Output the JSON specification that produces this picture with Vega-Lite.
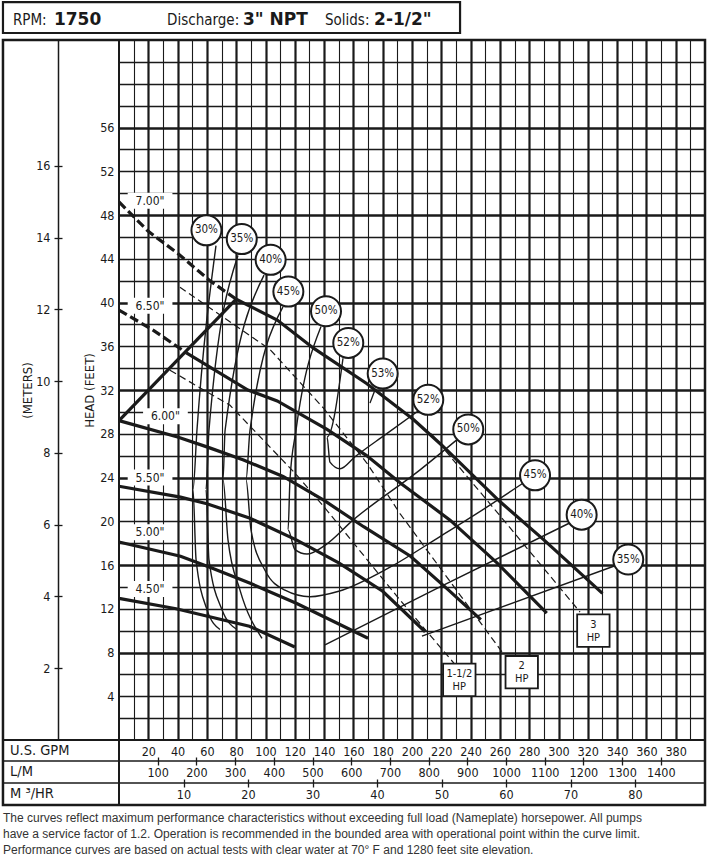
{
  "$schema": "https://vega.github.io/schema/vega-lite/v6.json",
  "width": 586,
  "height": 700,
  "autosize": {"type": "none"},
  "padding": {"left": 119, "top": 40, "right": 3, "bottom": 122},
  "background": "white",
  "config": {
    "view": {"stroke": "#1a1a1a", "strokeWidth": 2},
    "font": "DejaVu Sans Condensed, Liberation Sans Narrow, sans-serif",
    "axis": {
      "labelFont": "DejaVu Sans Condensed, Liberation Sans Narrow, sans-serif",
      "titleFont": "DejaVu Sans Condensed, Liberation Sans Narrow, sans-serif",
      "labelColor": "#1a1a1a", "titleColor": "#1a1a1a",
      "domainColor": "#1a1a1a", "tickColor": "#1a1a1a", "gridColor": "#1a1a1a",
      "gridOpacity": 1, "labelFontSize": 12.5, "labelOverlap": false, "labelFlush": false,
      "titleFontWeight": "normal", "titleFontSize": 13
    }
  },
  "data": {"values": [{}]},
  "datasets": {
    "curves": [
      {"curve":"7.00a","kind":"impd","seq":1,"gpm":0,"head":49.2},
      {"curve":"7.00a","kind":"impd","seq":2,"gpm":20,"head":46.5},
      {"curve":"7.00a","kind":"impd","seq":3,"gpm":40,"head":44.5},
      {"curve":"7.00a","kind":"impd","seq":4,"gpm":62,"head":42.0},
      {"curve":"7.00a","kind":"impd","seq":5,"gpm":80,"head":40.3},
      {"curve":"6.50a","kind":"impd","seq":1,"gpm":0,"head":39.3},
      {"curve":"6.50a","kind":"impd","seq":2,"gpm":23,"head":37.5},
      {"curve":"6.50a","kind":"impd","seq":3,"gpm":46,"head":35.4},
      {"curve":"7.00b","kind":"imp","seq":1,"gpm":80,"head":40.3},
      {"curve":"7.00b","kind":"imp","seq":2,"gpm":108,"head":38.4},
      {"curve":"7.00b","kind":"imp","seq":3,"gpm":133,"head":35.8},
      {"curve":"7.00b","kind":"imp","seq":4,"gpm":169,"head":32.6},
      {"curve":"7.00b","kind":"imp","seq":5,"gpm":201,"head":29.3},
      {"curve":"7.00b","kind":"imp","seq":6,"gpm":220,"head":27.0},
      {"curve":"7.00b","kind":"imp","seq":7,"gpm":260,"head":21.8},
      {"curve":"7.00b","kind":"imp","seq":8,"gpm":290,"head":18.3},
      {"curve":"7.00b","kind":"imp","seq":9,"gpm":330,"head":13.4},
      {"curve":"6.50b","kind":"imp","seq":1,"gpm":46,"head":35.4},
      {"curve":"6.50b","kind":"imp","seq":2,"gpm":88,"head":32.0},
      {"curve":"6.50b","kind":"imp","seq":3,"gpm":108,"head":31.0},
      {"curve":"6.50b","kind":"imp","seq":4,"gpm":142,"head":28.4},
      {"curve":"6.50b","kind":"imp","seq":5,"gpm":169,"head":26.0},
      {"curve":"6.50b","kind":"imp","seq":6,"gpm":192,"head":23.5},
      {"curve":"6.50b","kind":"imp","seq":7,"gpm":226,"head":20.1},
      {"curve":"6.50b","kind":"imp","seq":8,"gpm":258,"head":16.2},
      {"curve":"6.50b","kind":"imp","seq":9,"gpm":292,"head":11.6},
      {"curve":"6.00","kind":"imp","seq":1,"gpm":0,"head":29.2},
      {"curve":"6.00","kind":"imp","seq":2,"gpm":40,"head":27.7},
      {"curve":"6.00","kind":"imp","seq":3,"gpm":60,"head":26.8},
      {"curve":"6.00","kind":"imp","seq":4,"gpm":85,"head":25.6},
      {"curve":"6.00","kind":"imp","seq":5,"gpm":112,"head":24.1},
      {"curve":"6.00","kind":"imp","seq":6,"gpm":140,"head":21.9},
      {"curve":"6.00","kind":"imp","seq":7,"gpm":167,"head":19.5},
      {"curve":"6.00","kind":"imp","seq":8,"gpm":199,"head":16.8},
      {"curve":"6.00","kind":"imp","seq":9,"gpm":225,"head":13.7},
      {"curve":"6.00","kind":"imp","seq":10,"gpm":247,"head":11.0},
      {"curve":"5.50","kind":"imp","seq":1,"gpm":0,"head":23.2},
      {"curve":"5.50","kind":"imp","seq":2,"gpm":42,"head":22.2},
      {"curve":"5.50","kind":"imp","seq":3,"gpm":60,"head":21.6},
      {"curve":"5.50","kind":"imp","seq":4,"gpm":89,"head":20.3},
      {"curve":"5.50","kind":"imp","seq":5,"gpm":121,"head":18.3},
      {"curve":"5.50","kind":"imp","seq":6,"gpm":150,"head":16.2},
      {"curve":"5.50","kind":"imp","seq":7,"gpm":180,"head":13.6},
      {"curve":"5.50","kind":"imp","seq":8,"gpm":209,"head":9.9},
      {"curve":"5.00","kind":"imp","seq":1,"gpm":0,"head":18.1},
      {"curve":"5.00","kind":"imp","seq":2,"gpm":42,"head":16.8},
      {"curve":"5.00","kind":"imp","seq":3,"gpm":62,"head":15.8},
      {"curve":"5.00","kind":"imp","seq":4,"gpm":90,"head":14.3},
      {"curve":"5.00","kind":"imp","seq":5,"gpm":121,"head":12.5},
      {"curve":"5.00","kind":"imp","seq":6,"gpm":170,"head":9.3},
      {"curve":"4.50","kind":"imp","seq":1,"gpm":0,"head":12.95},
      {"curve":"4.50","kind":"imp","seq":2,"gpm":39,"head":12.0},
      {"curve":"4.50","kind":"imp","seq":3,"gpm":89,"head":10.4},
      {"curve":"4.50","kind":"imp","seq":4,"gpm":120,"head":8.5},
      {"curve":"max","kind":"imp","seq":1,"gpm":0,"head":29.2},
      {"curve":"max","kind":"imp","seq":2,"gpm":80,"head":40.3},
      {"curve":"e30","kind":"eff","seq":1,"gpm":66.2,"head":45.2},
      {"curve":"e30","kind":"eff","seq":2,"gpm":53.2,"head":28.3},
      {"curve":"e30","kind":"eff","seq":3,"gpm":50.5,"head":22.9},
      {"curve":"e30","kind":"eff","seq":4,"gpm":52.6,"head":16.5},
      {"curve":"e30","kind":"eff","seq":5,"gpm":60.1,"head":11.9},
      {"curve":"e30","kind":"eff","seq":6,"gpm":68.9,"head":10.1},
      {"curve":"e35","kind":"eff","seq":1,"gpm":81.2,"head":44.3},
      {"curve":"e35","kind":"eff","seq":2,"gpm":61.4,"head":28.3},
      {"curve":"e35","kind":"eff","seq":3,"gpm":59.4,"head":22.9},
      {"curve":"e35","kind":"eff","seq":4,"gpm":61.4,"head":16.5},
      {"curve":"e35","kind":"eff","seq":5,"gpm":70.3,"head":11.9},
      {"curve":"e35","kind":"eff","seq":6,"gpm":80.5,"head":10.1},
      {"curve":"e40","kind":"eff","seq":1,"gpm":99.0,"head":42.5},
      {"curve":"e40","kind":"eff","seq":2,"gpm":72.4,"head":28.3},
      {"curve":"e40","kind":"eff","seq":3,"gpm":71.0,"head":23.8},
      {"curve":"e40","kind":"eff","seq":4,"gpm":74.4,"head":18.3},
      {"curve":"e40","kind":"eff","seq":5,"gpm":82.6,"head":13.7},
      {"curve":"e40","kind":"eff","seq":6,"gpm":97.6,"head":9.3},
      {"curve":"e45","kind":"eff","seq":1,"gpm":111.9,"head":39.6},
      {"curve":"e45","kind":"eff","seq":2,"gpm":89.4,"head":28.3},
      {"curve":"e45","kind":"eff","seq":3,"gpm":86.7,"head":23.8},
      {"curve":"e45","kind":"eff","seq":4,"gpm":90.1,"head":19.2},
      {"curve":"e45","kind":"eff","seq":5,"gpm":99.7,"head":15.5},
      {"curve":"e45","kind":"eff","seq":6,"gpm":113.3,"head":13.7},
      {"curve":"e45","kind":"eff","seq":7,"gpm":130.4,"head":13.1},
      {"curve":"e45","kind":"eff","seq":8,"gpm":150,"head":13.6},
      {"curve":"e45","kind":"eff","seq":9,"gpm":185,"head":15.8},
      {"curve":"e45","kind":"eff","seq":10,"gpm":219.1,"head":18.6},
      {"curve":"e45","kind":"eff","seq":11,"gpm":250,"head":21.2},
      {"curve":"e45","kind":"eff","seq":12,"gpm":276,"head":23.5},
      {"curve":"e50","kind":"eff","seq":1,"gpm":137.9,"head":37.8},
      {"curve":"e50","kind":"eff","seq":2,"gpm":120.8,"head":28.3},
      {"curve":"e50","kind":"eff","seq":3,"gpm":116.7,"head":23.8},
      {"curve":"e50","kind":"eff","seq":4,"gpm":115.4,"head":19.2},
      {"curve":"e50","kind":"eff","seq":5,"gpm":120.1,"head":17.4},
      {"curve":"e50","kind":"eff","seq":6,"gpm":128.3,"head":17.0},
      {"curve":"e50","kind":"eff","seq":7,"gpm":140.6,"head":17.8},
      {"curve":"e50","kind":"eff","seq":8,"gpm":159.7,"head":20.1},
      {"curve":"e50","kind":"eff","seq":9,"gpm":205.5,"head":24.7},
      {"curve":"e50","kind":"eff","seq":10,"gpm":232,"head":27.6},
      {"curve":"e52","kind":"eff","seq":1,"gpm":152.9,"head":34.9},
      {"curve":"e52","kind":"eff","seq":2,"gpm":142.0,"head":27.7},
      {"curve":"e52","kind":"eff","seq":3,"gpm":144.0,"head":25.4},
      {"curve":"e52","kind":"eff","seq":4,"gpm":150.9,"head":24.8},
      {"curve":"e52","kind":"eff","seq":5,"gpm":161.1,"head":25.9},
      {"curve":"e52","kind":"eff","seq":6,"gpm":181.6,"head":27.9},
      {"curve":"e52","kind":"eff","seq":7,"gpm":207.5,"head":30.4},
      {"curve":"e53","kind":"eff","seq":1,"gpm":174.7,"head":32.0},
      {"curve":"e53","kind":"eff","seq":2,"gpm":171.3,"head":30.8},
      {"curve":"e40r","kind":"eff","seq":1,"gpm":140.6,"head":8.7},
      {"curve":"e40r","kind":"eff","seq":2,"gpm":219.1,"head":14.0},
      {"curve":"e40r","kind":"eff","seq":3,"gpm":310,"head":20.0},
      {"curve":"e35r","kind":"eff","seq":1,"gpm":206.8,"head":9.5},
      {"curve":"e35r","kind":"eff","seq":2,"gpm":340,"head":16.0},
      {"curve":"hp3","kind":"hp","seq":1,"gpm":213.1,"head":28.0},
      {"curve":"hp3","kind":"hp","seq":2,"gpm":260.1,"head":20.5},
      {"curve":"hp3","kind":"hp","seq":3,"gpm":314.7,"head":11.7},
      {"curve":"hp2","kind":"hp","seq":1,"gpm":41.6,"head":41.4},
      {"curve":"hp2","kind":"hp","seq":2,"gpm":103.1,"head":35.7},
      {"curve":"hp2","kind":"hp","seq":3,"gpm":139.2,"head":30.4},
      {"curve":"hp2","kind":"hp","seq":4,"gpm":169.3,"head":25.3},
      {"curve":"hp2","kind":"hp","seq":5,"gpm":191.8,"head":20.7},
      {"curve":"hp2","kind":"hp","seq":6,"gpm":262.3,"head":7.9},
      {"curve":"hp15","kind":"hp","seq":1,"gpm":34.8,"head":33.8},
      {"curve":"hp15","kind":"hp","seq":2,"gpm":75.8,"head":30.6},
      {"curve":"hp15","kind":"hp","seq":3,"gpm":121.5,"head":24.2},
      {"curve":"hp15","kind":"hp","seq":4,"gpm":141.9,"head":21.0},
      {"curve":"hp15","kind":"hp","seq":5,"gpm":191.8,"head":12.8},
      {"curve":"hp15","kind":"hp","seq":6,"gpm":229.4,"head":6.9}
    ],
    "effLabels": [
      {"label":"30%","gpm":59.7,"head":46.6},
      {"label":"35%","gpm":83.8,"head":45.8},
      {"label":"40%","gpm":103.5,"head":43.9},
      {"label":"45%","gpm":115.6,"head":41.0},
      {"label":"50%","gpm":141.3,"head":39.2},
      {"label":"52%","gpm":156.5,"head":36.3},
      {"label":"53%","gpm":180,"head":33.5},
      {"label":"52%","gpm":211.1,"head":31.1},
      {"label":"50%","gpm":238.4,"head":28.4},
      {"label":"45%","gpm":284,"head":24.2},
      {"label":"40%","gpm":315.8,"head":20.6},
      {"label":"35%","gpm":347.6,"head":16.5}
    ],
    "impLabels": [
      {"label":"7.00\"","gpm":21.2,"head":49.3},
      {"label":"6.50\"","gpm":21.2,"head":39.7},
      {"label":"6.00\"","gpm":31.7,"head":29.6},
      {"label":"5.50\"","gpm":21.2,"head":24.0},
      {"label":"5.00\"","gpm":21.2,"head":19.0},
      {"label":"4.50\"","gpm":21.2,"head":13.8}
    ],
    "hpLabels": [
      {"label":"1-1/2\nHP","gpm":232.3,"head":5.5},
      {"label":"2\nHP","gpm":274.9,"head":6.2},
      {"label":"3\nHP","gpm":323.8,"head":10.0}
    ]
  },
  "resolve": {"axis": {"x": "independent", "y": "independent"}},
  "layer": [
    {
      "mark": {"type": "point", "opacity": 0},
      "encoding": {
        "x": {"datum": 0, "type": "quantitative", "scale": {"domain": [0, 400], "nice": false, "zero": false},
          "axis": {"orient": "bottom", "values": [10,30,50,70,90,110,130,150,170,190,210,230,250,270,290,310,330,350,370,390], "grid": true, "gridWidth": 1.1, "labels": false, "ticks": false, "domain": false, "title": null, "zindex": 0}},
        "y": {"datum": 0, "type": "quantitative", "scale": {"domain": [0, 64], "nice": false, "zero": false},
          "axis": {"orient": "left", "values": [2,4,6,10,12,14,18,20,22,26,28,30,34,36,38,42,44,46,50,52,54,58,60,62], "grid": true, "gridWidth": 1.4, "labels": false, "ticks": false, "domain": false, "title": null, "zindex": 0}}
      }
    },
    {
      "mark": {"type": "point", "opacity": 0},
      "encoding": {
        "x": {"datum": 0, "type": "quantitative", "scale": {"domain": [0, 400], "nice": false, "zero": false},
          "axis": {"orient": "bottom", "values": [20,40,60,80,100,120,140,160,180,200,220,240,260,280,300,320,340,360,380], "grid": true, "gridWidth": 2.2, "labels": false, "ticks": false, "domain": false, "title": null, "zindex": 0}},
        "y": {"datum": 0, "type": "quantitative", "scale": {"domain": [0, 64], "nice": false, "zero": false},
          "axis": {"orient": "left", "values": [8,16,24,32,40,48,56], "grid": true, "gridWidth": 2.4, "labels": false, "ticks": false, "domain": false, "title": null, "zindex": 0}}
      }
    },
    {
      "mark": {"type": "point", "opacity": 0},
      "encoding": {
        "x": {"datum": 0, "type": "quantitative", "scale": {"domain": [0, 400], "nice": false, "zero": false},
          "axis": {"orient": "bottom", "values": [20,40,60,80,100,120,140,160,180,200,220,240,260,280,300,320,340,360,380], "grid": false, "ticks": false, "tickSize": 0, "domain": false, "labelPadding": 5, "title": null}},
        "y": {"datum": 0, "type": "quantitative", "scale": {"domain": [0, 64], "nice": false, "zero": false},
          "axis": {"orient": "left", "values": [4,8,12,16,20,24,28,32,36,40,44,48,52,56], "grid": false, "ticks": false, "tickSize": 0, "domain": false, "labelPadding": 5, "title": "HEAD (FEET)", "titlePadding": 3}}
      }
    },
    {
      "mark": {"type": "point", "opacity": 0},
      "encoding": {
        "x": {"datum": 0, "type": "quantitative", "scale": {"domain": [0, 400], "nice": false, "zero": false},
          "axis": {"orient": "bottom", "offset": 17, "values": [26.417,52.834,79.252,105.669,132.086,158.503,184.92,211.338,237.755,264.172,290.589,317.006,343.423,369.841], "grid": false, "labels": false, "ticks": true, "tickSize": 8, "tickWidth": 1.3, "domain": false, "title": null}},
        "y": {"datum": 0, "type": "quantitative", "scale": {"domain": [0, 64], "nice": false, "zero": false},
          "axis": {"orient": "left", "offset": 61, "values": [6.56168,13.12336,19.68504,26.24672,32.8084,39.37008,45.93176,52.49344], "labelExpr": "format(datum.value/3.28084,'.0f')", "grid": false, "ticks": true, "tickSize": 4, "tickWidth": 1.3, "domain": true, "domainWidth": 1.5, "labelPadding": 4, "title": "(METERS)", "titlePadding": 1}}
      }
    },
    {
      "mark": {"type": "point", "opacity": 0},
      "encoding": {
        "x": {"datum": 0, "type": "quantitative", "scale": {"domain": [0, 400], "nice": false, "zero": false},
          "axis": {"orient": "bottom", "offset": 21, "values": [26.417,52.834,79.252,105.669,132.086,158.503,184.92,211.338,237.755,264.172,290.589,317.006,343.423,369.841], "labelExpr": "format(datum.value*3.78541,'.0f')", "grid": false, "ticks": false, "tickSize": 0, "domain": false, "labelPadding": 5, "title": null}},
        "y": {"datum": 0, "type": "quantitative", "scale": {"domain": [0, 64], "nice": false, "zero": false},
          "axis": {"orient": "left", "offset": 57, "values": [6.56168,13.12336,19.68504,26.24672,32.8084,39.37008,45.93176,52.49344], "grid": false, "labels": false, "ticks": true, "tickSize": 4, "tickWidth": 1.3, "domain": false, "title": null}}
      }
    },
    {
      "mark": {"type": "point", "opacity": 0},
      "encoding": {
        "x": {"datum": 0, "type": "quantitative", "scale": {"domain": [0, 400], "nice": false, "zero": false},
          "axis": {"orient": "bottom", "offset": 39, "values": [44.029,88.057,132.086,176.115,220.144,264.172,308.201,352.23], "grid": false, "labels": false, "ticks": true, "tickSize": 8, "tickWidth": 1.3, "domain": false, "title": null}},
        "y": {"datum": 0, "type": "quantitative", "scale": {"domain": [0, 64], "nice": false, "zero": false}, "axis": null}
      }
    },
    {
      "mark": {"type": "point", "opacity": 0},
      "encoding": {
        "x": {"datum": 0, "type": "quantitative", "scale": {"domain": [0, 400], "nice": false, "zero": false},
          "axis": {"orient": "bottom", "offset": 43, "values": [44.029,88.057,132.086,176.115,220.144,264.172,308.201,352.23], "labelExpr": "format(datum.value/4.40287,'.0f')", "grid": false, "ticks": false, "tickSize": 0, "domain": false, "labelPadding": 5, "title": null}},
        "y": {"datum": 0, "type": "quantitative", "scale": {"domain": [0, 64], "nice": false, "zero": false}, "axis": null}
      }
    },
    {
      "mark": {"type": "rect", "fillOpacity": 0, "stroke": "#1a1a1a", "strokeWidth": 2.5},
      "encoding": {
        "x": {"datum": -79.2, "type": "quantitative", "scale": {"domain": [0, 400], "nice": false, "zero": false}, "axis": null},
        "x2": {"datum": 400},
        "y": {"datum": 64, "type": "quantitative", "scale": {"domain": [0, 64], "nice": false, "zero": false}, "axis": null},
        "y2": {"datum": -5.94}
      }
    },
    {
      "mark": {"type": "rule", "stroke": "#1a1a1a", "strokeWidth": 2},
      "encoding": {
        "x": {"datum": -79.2, "type": "quantitative", "scale": {"domain": [0, 400], "nice": false, "zero": false}, "axis": null},
        "x2": {"datum": 400},
        "y": {"datum": 0, "type": "quantitative", "scale": {"domain": [0, 64], "nice": false, "zero": false}, "axis": null}
      }
    },
    {
      "mark": {"type": "rule", "stroke": "#1a1a1a", "strokeWidth": 1.6},
      "encoding": {
        "x": {"datum": -79.2, "type": "quantitative", "scale": {"domain": [0, 400], "nice": false, "zero": false}, "axis": null},
        "x2": {"datum": 400},
        "y": {"datum": -1.92, "type": "quantitative", "scale": {"domain": [0, 64], "nice": false, "zero": false}, "axis": null}
      }
    },
    {
      "mark": {"type": "rule", "stroke": "#1a1a1a", "strokeWidth": 1.6},
      "encoding": {
        "x": {"datum": -79.2, "type": "quantitative", "scale": {"domain": [0, 400], "nice": false, "zero": false}, "axis": null},
        "x2": {"datum": 400},
        "y": {"datum": -3.93, "type": "quantitative", "scale": {"domain": [0, 64], "nice": false, "zero": false}, "axis": null}
      }
    },
    {
      "mark": {"type": "rule", "stroke": "#1a1a1a", "strokeWidth": 2},
      "encoding": {
        "x": {"datum": 0, "type": "quantitative", "scale": {"domain": [0, 400], "nice": false, "zero": false}, "axis": null},
        "y": {"datum": 0, "type": "quantitative", "scale": {"domain": [0, 64], "nice": false, "zero": false}, "axis": null},
        "y2": {"datum": -5.94}
      }
    },
    {
      "mark": {"type": "rect", "fillOpacity": 0, "stroke": "#1a1a1a", "strokeWidth": 2.2},
      "encoding": {
        "x": {"datum": -79.2, "type": "quantitative", "scale": {"domain": [0, 400], "nice": false, "zero": false}, "axis": null},
        "x2": {"datum": 232.8},
        "y": {"datum": 67.47, "type": "quantitative", "scale": {"domain": [0, 64], "nice": false, "zero": false}, "axis": null},
        "y2": {"datum": 64.64}
      }
    },
    {
      "mark": {"type": "text", "text": "RPM:", "align": "left", "baseline": "alphabetic", "fontSize": 15, "color": "#1a1a1a"},
      "encoding": {
        "x": {"datum": -72.4, "type": "quantitative", "scale": {"domain": [0, 400], "nice": false, "zero": false}, "axis": null},
        "y": {"datum": 65.37, "type": "quantitative", "scale": {"domain": [0, 64], "nice": false, "zero": false}, "axis": null}
      }
    },
    {
      "mark": {"type": "text", "text": "1750", "align": "left", "baseline": "alphabetic", "fontSize": 17, "font": "DejaVu Sans", "fontWeight": "bold", "color": "#1a1a1a"},
      "encoding": {
        "x": {"datum": -44.4, "type": "quantitative", "scale": {"domain": [0, 400], "nice": false, "zero": false}, "axis": null},
        "y": {"datum": 65.37, "type": "quantitative", "scale": {"domain": [0, 64], "nice": false, "zero": false}, "axis": null}
      }
    },
    {
      "mark": {"type": "text", "text": "Discharge:", "align": "left", "baseline": "alphabetic", "fontSize": 15, "color": "#1a1a1a"},
      "encoding": {
        "x": {"datum": 32.8, "type": "quantitative", "scale": {"domain": [0, 400], "nice": false, "zero": false}, "axis": null},
        "y": {"datum": 65.37, "type": "quantitative", "scale": {"domain": [0, 64], "nice": false, "zero": false}, "axis": null}
      }
    },
    {
      "mark": {"type": "text", "text": "3\" NPT", "align": "left", "baseline": "alphabetic", "fontSize": 17, "font": "DejaVu Sans", "fontWeight": "bold", "color": "#1a1a1a"},
      "encoding": {
        "x": {"datum": 84.6, "type": "quantitative", "scale": {"domain": [0, 400], "nice": false, "zero": false}, "axis": null},
        "y": {"datum": 65.37, "type": "quantitative", "scale": {"domain": [0, 64], "nice": false, "zero": false}, "axis": null}
      }
    },
    {
      "mark": {"type": "text", "text": "Solids:", "align": "left", "baseline": "alphabetic", "fontSize": 15, "color": "#1a1a1a"},
      "encoding": {
        "x": {"datum": 140.6, "type": "quantitative", "scale": {"domain": [0, 400], "nice": false, "zero": false}, "axis": null},
        "y": {"datum": 65.37, "type": "quantitative", "scale": {"domain": [0, 64], "nice": false, "zero": false}, "axis": null}
      }
    },
    {
      "mark": {"type": "text", "text": "2-1/2\"", "align": "left", "baseline": "alphabetic", "fontSize": 17, "font": "DejaVu Sans", "fontWeight": "bold", "color": "#1a1a1a"},
      "encoding": {
        "x": {"datum": 174.1, "type": "quantitative", "scale": {"domain": [0, 400], "nice": false, "zero": false}, "axis": null},
        "y": {"datum": 65.37, "type": "quantitative", "scale": {"domain": [0, 64], "nice": false, "zero": false}, "axis": null}
      }
    },
    {
      "mark": {"type": "text", "text": "U.S. GPM", "align": "left", "baseline": "middle", "fontSize": 14.5, "color": "#1a1a1a"},
      "encoding": {
        "x": {"datum": -74.4, "type": "quantitative", "scale": {"domain": [0, 400], "nice": false, "zero": false}, "axis": null},
        "y": {"datum": -1.0, "type": "quantitative", "scale": {"domain": [0, 64], "nice": false, "zero": false}, "axis": null}
      }
    },
    {
      "mark": {"type": "text", "text": "L/M", "align": "left", "baseline": "middle", "fontSize": 14.5, "color": "#1a1a1a"},
      "encoding": {
        "x": {"datum": -74.4, "type": "quantitative", "scale": {"domain": [0, 400], "nice": false, "zero": false}, "axis": null},
        "y": {"datum": -2.93, "type": "quantitative", "scale": {"domain": [0, 64], "nice": false, "zero": false}, "axis": null}
      }
    },
    {
      "mark": {"type": "text", "text": "M ³/HR", "align": "left", "baseline": "middle", "fontSize": 14.5, "color": "#1a1a1a"},
      "encoding": {
        "x": {"datum": -74.4, "type": "quantitative", "scale": {"domain": [0, 400], "nice": false, "zero": false}, "axis": null},
        "y": {"datum": -4.94, "type": "quantitative", "scale": {"domain": [0, 64], "nice": false, "zero": false}, "axis": null}
      }
    },
    {
      "mark": {"type": "text", "text": "The curves reflect maximum performance characteristics without exceeding full load (Nameplate) horsepower. All pumps\nhave a service factor of 1.2. Operation is recommended in the bounded area with operational point within the curve limit.\nPerformance curves are based on actual tests with clear water at 70° F and 1280 feet site elevation.", "lineBreak": "\n", "lineHeight": 16, "align": "left", "baseline": "alphabetic", "fontSize": 12, "font": "Liberation Sans, Arial, sans-serif", "color": "#333333"},
      "encoding": {
        "x": {"datum": -79.2, "type": "quantitative", "scale": {"domain": [0, 400], "nice": false, "zero": false}, "axis": null},
        "y": {"datum": -7.5, "type": "quantitative", "scale": {"domain": [0, 64], "nice": false, "zero": false}, "axis": null}
      }
    },
    {
      "data": {"name": "impLabels"},
      "mark": {"type": "point", "shape": "M-1,-0.36H1V0.36H-1Z", "size": 2000, "filled": true, "fill": "white", "opacity": 1, "strokeWidth": 0},
      "encoding": {
        "x": {"field": "gpm", "type": "quantitative", "scale": {"domain": [0, 400], "nice": false, "zero": false}, "axis": null},
        "y": {"field": "head", "type": "quantitative", "scale": {"domain": [0, 64], "nice": false, "zero": false}, "axis": null}
      }
    },
    {
      "data": {"name": "curves"},
      "transform": [{"filter": "datum.kind == 'eff'"}],
      "mark": {"type": "line", "stroke": "#1a1a1a", "strokeWidth": 1.4, "interpolate": "monotone"},
      "encoding": {
        "x": {"field": "gpm", "type": "quantitative", "scale": {"domain": [0, 400], "nice": false, "zero": false}, "axis": null},
        "y": {"field": "head", "type": "quantitative", "scale": {"domain": [0, 64], "nice": false, "zero": false}, "axis": null},
        "detail": {"field": "curve", "type": "nominal"},
        "order": {"field": "seq", "type": "quantitative"}
      }
    },
    {
      "data": {"name": "curves"},
      "transform": [{"filter": "datum.kind == 'hp'"}],
      "mark": {"type": "line", "stroke": "#1a1a1a", "strokeWidth": 1.2, "strokeDash": [7, 4]},
      "encoding": {
        "x": {"field": "gpm", "type": "quantitative", "scale": {"domain": [0, 400], "nice": false, "zero": false}, "axis": null},
        "y": {"field": "head", "type": "quantitative", "scale": {"domain": [0, 64], "nice": false, "zero": false}, "axis": null},
        "detail": {"field": "curve", "type": "nominal"},
        "order": {"field": "seq", "type": "quantitative"}
      }
    },
    {
      "data": {"name": "curves"},
      "transform": [{"filter": "datum.kind == 'imp'"}],
      "mark": {"type": "line", "stroke": "#1a1a1a", "strokeWidth": 3.2},
      "encoding": {
        "x": {"field": "gpm", "type": "quantitative", "scale": {"domain": [0, 400], "nice": false, "zero": false}, "axis": null},
        "y": {"field": "head", "type": "quantitative", "scale": {"domain": [0, 64], "nice": false, "zero": false}, "axis": null},
        "detail": {"field": "curve", "type": "nominal"},
        "order": {"field": "seq", "type": "quantitative"}
      }
    },
    {
      "data": {"name": "curves"},
      "transform": [{"filter": "datum.kind == 'impd'"}],
      "mark": {"type": "line", "stroke": "#1a1a1a", "strokeWidth": 3.2, "strokeDash": [9, 4]},
      "encoding": {
        "x": {"field": "gpm", "type": "quantitative", "scale": {"domain": [0, 400], "nice": false, "zero": false}, "axis": null},
        "y": {"field": "head", "type": "quantitative", "scale": {"domain": [0, 64], "nice": false, "zero": false}, "axis": null},
        "detail": {"field": "curve", "type": "nominal"},
        "order": {"field": "seq", "type": "quantitative"}
      }
    },
    {
      "data": {"name": "impLabels"},
      "mark": {"type": "text", "fontSize": 12, "color": "#1a1a1a"},
      "encoding": {
        "x": {"field": "gpm", "type": "quantitative", "scale": {"domain": [0, 400], "nice": false, "zero": false}, "axis": null},
        "y": {"field": "head", "type": "quantitative", "scale": {"domain": [0, 64], "nice": false, "zero": false}, "axis": null},
        "text": {"field": "label", "type": "nominal"}
      }
    },
    {
      "data": {"name": "effLabels"},
      "mark": {"type": "point", "shape": "circle", "size": 900, "filled": true, "fill": "white", "stroke": "#1a1a1a", "strokeWidth": 2, "opacity": 1},
      "encoding": {
        "x": {"field": "gpm", "type": "quantitative", "scale": {"domain": [0, 400], "nice": false, "zero": false}, "axis": null},
        "y": {"field": "head", "type": "quantitative", "scale": {"domain": [0, 64], "nice": false, "zero": false}, "axis": null}
      }
    },
    {
      "data": {"name": "effLabels"},
      "mark": {"type": "text", "fontSize": 11.5, "color": "#1a1a1a"},
      "encoding": {
        "x": {"field": "gpm", "type": "quantitative", "scale": {"domain": [0, 400], "nice": false, "zero": false}, "axis": null},
        "y": {"field": "head", "type": "quantitative", "scale": {"domain": [0, 64], "nice": false, "zero": false}, "axis": null},
        "text": {"field": "label", "type": "nominal"}
      }
    },
    {
      "data": {"name": "hpLabels"},
      "mark": {"type": "point", "shape": "square", "size": 1050, "filled": true, "fill": "white", "stroke": "#1a1a1a", "strokeWidth": 1.8, "opacity": 1},
      "encoding": {
        "x": {"field": "gpm", "type": "quantitative", "scale": {"domain": [0, 400], "nice": false, "zero": false}, "axis": null},
        "y": {"field": "head", "type": "quantitative", "scale": {"domain": [0, 64], "nice": false, "zero": false}, "axis": null}
      }
    },
    {
      "data": {"name": "hpLabels"},
      "mark": {"type": "text", "fontSize": 11, "lineBreak": "\n", "lineHeight": 13, "baseline": "middle", "dy": -6, "color": "#1a1a1a"},
      "encoding": {
        "x": {"field": "gpm", "type": "quantitative", "scale": {"domain": [0, 400], "nice": false, "zero": false}, "axis": null},
        "y": {"field": "head", "type": "quantitative", "scale": {"domain": [0, 64], "nice": false, "zero": false}, "axis": null},
        "text": {"field": "label", "type": "nominal"}
      }
    }
  ]
}
